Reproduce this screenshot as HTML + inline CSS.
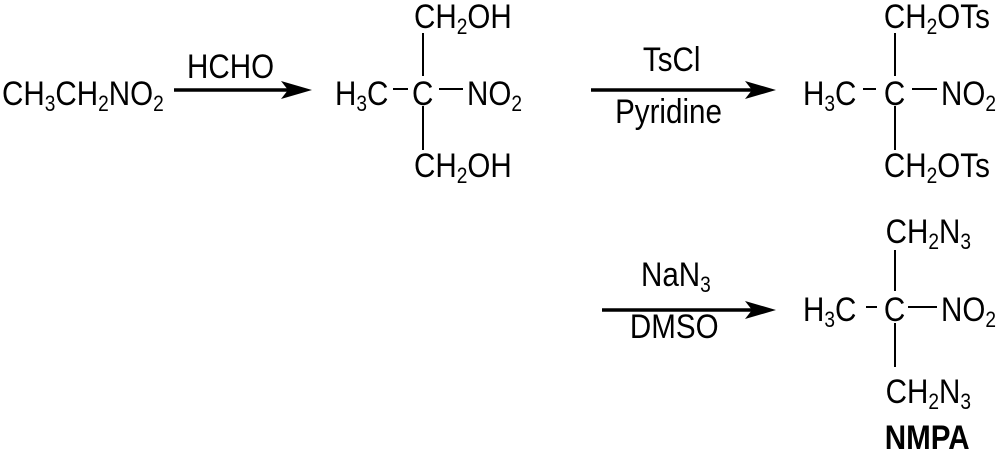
<!DOCTYPE html>
<html><head><meta charset="utf-8"><style>
html,body{margin:0;padding:0;background:#fff;}
svg{display:block;}
text{font-family:"Liberation Sans",sans-serif;font-size:34px;fill:#000;}
.s{font-size:22px;}
</style></head><body>
<svg width="1000" height="462" viewBox="0 0 1000 462" xmlns="http://www.w3.org/2000/svg">
<g stroke="#000" stroke-width="2" fill="none">
<line x1="423" y1="33" x2="423" y2="76"/><line x1="423" y1="106" x2="423" y2="150"/>
<line x1="393" y1="89" x2="408" y2="89"/><line x1="439" y1="89" x2="463" y2="89"/>
<line x1="895" y1="33" x2="895" y2="76"/><line x1="895" y1="106" x2="895" y2="150"/>
<line x1="863" y1="89" x2="876" y2="89"/><line x1="912" y1="89" x2="937" y2="89"/>
<line x1="895" y1="250" x2="895" y2="291"/><line x1="895" y1="323" x2="895" y2="367"/>
<line x1="866" y1="307" x2="877" y2="307"/><line x1="908" y1="307" x2="937" y2="307"/>
</g>
<g stroke="#000" stroke-width="3.5">
<line x1="174" y1="90" x2="290" y2="90"/>
<line x1="591" y1="90" x2="755" y2="90"/>
<line x1="602" y1="310" x2="755" y2="310"/>
</g>
<g fill="#000">
<polygon points="312,90 281,81 288,90 281,99"/>
<polygon points="776,90 745,81 752,90 745,99"/>
<polygon points="776,310 745,301 752,310 745,319"/>
</g>
<g transform="scale(0.87,1)">
<text x="2.3" y="105">CH<tspan class="s" dy="6">3</tspan><tspan dy="-6">CH</tspan><tspan class="s" dy="6">2</tspan><tspan dy="-6">NO</tspan><tspan class="s" dy="6">2</tspan></text>
<text x="215" y="78">HCHO</text>
<text x="385" y="105">H<tspan class="s" dy="6">3</tspan><tspan dy="-6">C</tspan></text>
<text x="473.6" y="105">C</text>
<text x="536.8" y="105">NO<tspan class="s" dy="6">2</tspan></text>
<text x="475.9" y="28">CH<tspan class="s" dy="6">2</tspan><tspan dy="-6">OH</tspan></text>
<text x="475.9" y="177">CH<tspan class="s" dy="6">2</tspan><tspan dy="-6">OH</tspan></text>
<text x="739" y="71">TsCl</text>
<text x="707" y="123">Pyridine</text>
<text x="923" y="105">H<tspan class="s" dy="6">3</tspan><tspan dy="-6">C</tspan></text>
<text x="1016" y="105">C</text>
<text x="1081.6" y="105">NO<tspan class="s" dy="6">2</tspan></text>
<text x="1016" y="28">CH<tspan class="s" dy="6">2</tspan><tspan dy="-6">OTs</tspan></text>
<text x="1016" y="177">CH<tspan class="s" dy="6">2</tspan><tspan dy="-6">OTs</tspan></text>
<text x="736.8" y="286">NaN<tspan class="s" dy="6">3</tspan></text>
<text x="724" y="338">DMSO</text>
<text x="923" y="321">H<tspan class="s" dy="6">3</tspan><tspan dy="-6">C</tspan></text>
<text x="1016" y="321">C</text>
<text x="1081.6" y="321">NO<tspan class="s" dy="6">2</tspan></text>
<text x="1018" y="243">CH<tspan class="s" dy="6">2</tspan><tspan dy="-6">N</tspan><tspan class="s" dy="6">3</tspan></text>
<text x="1018" y="403">CH<tspan class="s" dy="6">2</tspan><tspan dy="-6">N</tspan><tspan class="s" dy="6">3</tspan></text>
<text x="1017" y="449" style="font-weight:bold">NMPA</text>
</g>
</svg>
</body></html>
